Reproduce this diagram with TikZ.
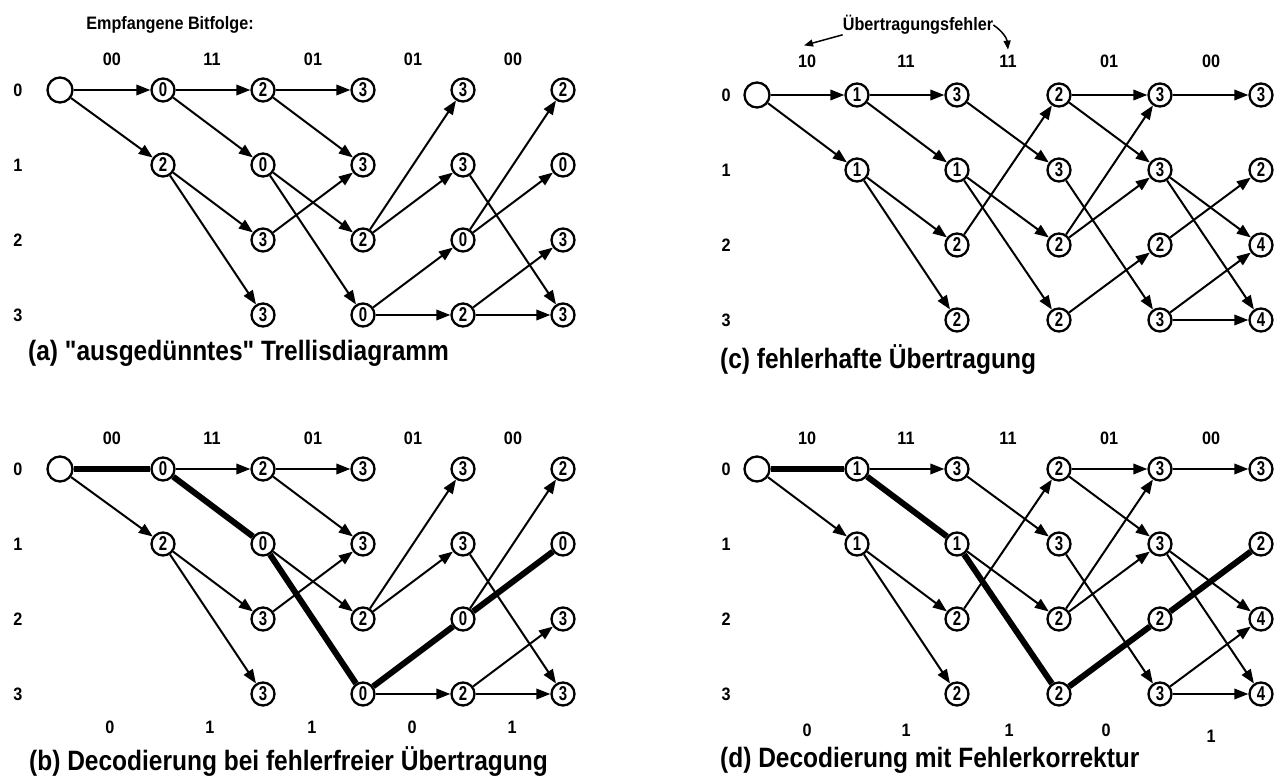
\documentclass[tikz,border=0pt]{standalone}
\usepackage{fontspec}
\setmainfont{Liberation Sans}[FakeStretch=0.9]
\newfontfamily\nfont{Liberation Sans}[FakeStretch=0.75]
\newfontfamily\capfont{Liberation Sans}[FakeStretch=0.875]
\usetikzlibrary{arrows.meta}
\tikzset{
 st/.style={circle,draw,line width=2.3pt,minimum size=23pt,inner sep=0pt,font=\nfont\bfseries\fontsize{20}{20}\selectfont},
 startnode/.style={circle,draw,line width=2.3pt,minimum size=25pt,inner sep=0pt},
 ed/.style={line width=2pt,-{Triangle[length=14pt,width=10.5pt]}},
 th/.style={line width=6pt},
 lab/.style={font=\bfseries\fontsize{18}{18}\selectfont,inner sep=0pt},
 captext/.style={font=\capfont\bfseries\fontsize{28}{28}\selectfont,inner sep=0pt,anchor=west},
 ann/.style={line width=1.5pt,-{Triangle[length=9pt,width=7pt]}},
}
\begin{document}
\begin{tikzpicture}[x=1pt,y=-1pt]
\useasboundingbox (0,0) rectangle (1287,781);
% ---------------- Panel (a) ----------------
\node[lab] (ahead) at (170,25) {Empfangene Bitfolge:};
\foreach \r/\y in {0/90,1/165,2/240,3/315} \node[lab] (ar\r) at (18,\y) {\r};
\foreach \i/\x/\t in {1/112/00,2/212/11,3/313/01,4/413/01,5/513/00} \node[lab] (ab\i) at (\x,59) {\t};
\node[startnode] (a00) at (60,90) {};
\node[st] (a10) at (163,90) {0};
\node[st] (a11) at (163,165) {2};
\node[st] (a20) at (263,90) {2};
\node[st] (a21) at (263,165) {0};
\node[st] (a22) at (263,240) {3};
\node[st] (a23) at (263,315) {3};
\node[st] (a30) at (363,90) {3};
\node[st] (a31) at (363,165) {3};
\node[st] (a32) at (363,240) {2};
\node[st] (a33) at (363,315) {0};
\node[st] (a40) at (463,90) {3};
\node[st] (a41) at (463,165) {3};
\node[st] (a42) at (463,240) {0};
\node[st] (a43) at (463,315) {2};
\node[st] (a50) at (563,90) {2};
\node[st] (a51) at (563,165) {0};
\node[st] (a52) at (563,240) {3};
\node[st] (a53) at (563,315) {3};
\foreach \s/\e in {a00/a10,a00/a11,a10/a20,a10/a21,a11/a22,a11/a23,a20/a30,a20/a31,a21/a32,a21/a33,a22/a31,a32/a40,a32/a41,a33/a42,a33/a43,a41/a53,a42/a50,a42/a51,a43/a52,a43/a53}
  \draw[ed] (\s) -- (\e);
\node[captext] (acap) at (28,353) {(a) "ausgedünntes" Trellisdiagramm};
% ---------------- Panel (b) ----------------
\foreach \r/\y in {0/469,1/544,2/619,3/694} \node[lab] (br\r) at (18,\y) {\r};
\foreach \i/\x/\t in {1/112/00,2/212/11,3/313/01,4/413/01,5/513/00} \node[lab] (bb\i) at (\x,438) {\t};
\foreach \i/\x/\t in {1/110/0,2/210/1,3/312/1,4/412/0,5/512/1} \node[lab] (bd\i) at (\x,727) {\t};
\node[startnode] (b00) at (60,469) {};
\node[st] (b10) at (163,469) {0};
\node[st] (b11) at (163,544) {2};
\node[st] (b20) at (263,469) {2};
\node[st] (b21) at (263,544) {0};
\node[st] (b22) at (263,619) {3};
\node[st] (b23) at (263,694) {3};
\node[st] (b30) at (363,469) {3};
\node[st] (b31) at (363,544) {3};
\node[st] (b32) at (363,619) {2};
\node[st] (b33) at (363,694) {0};
\node[st] (b40) at (463,469) {3};
\node[st] (b41) at (463,544) {3};
\node[st] (b42) at (463,619) {0};
\node[st] (b43) at (463,694) {2};
\node[st] (b50) at (563,469) {2};
\node[st] (b51) at (563,544) {0};
\node[st] (b52) at (563,619) {3};
\node[st] (b53) at (563,694) {3};
\foreach \s/\e in {b00/b11,b10/b20,b11/b22,b11/b23,b20/b30,b20/b31,b21/b32,b22/b31,b32/b40,b32/b41,b33/b43,b41/b53,b42/b50,b43/b52,b43/b53}
  \draw[ed] (\s) -- (\e);
\foreach \s/\e in {b00/b10,b10/b21,b21/b33,b33/b42,b42/b51}
  \draw[th] (\s) -- (\e);
\node[captext] (bcap) at (29,762) {(b) Decodierung bei fehlerfreier Übertragung};
% ---------------- Panel (c) ----------------
\foreach \r/\y in {0/95,1/170,2/245,3/320} \node[lab] (cr\r) at (726,\y) {\r};
\foreach \i/\x/\t in {1/807/10,2/906/11,3/1008/11,4/1109/01,5/1211/00} \node[lab] (cb\i) at (\x,61) {\t};
\node[lab] (err) at (918,25) {Übertragungsfehler};
\draw[ann] (err.south west) -- ([xshift=-3pt,yshift=9pt]cb1.north);
\draw[ann] (err.east) to[bend left=25] ([yshift=5pt]cb3.north);
\node[startnode] (c00) at (757,95) {};
\node[st] (c10) at (857,95) {1};
\node[st] (c11) at (857,170) {1};
\node[st] (c20) at (957,95) {3};
\node[st] (c21) at (957,170) {1};
\node[st] (c22) at (957,245) {2};
\node[st] (c23) at (957,320) {2};
\node[st] (c30) at (1059,95) {2};
\node[st] (c31) at (1059,170) {3};
\node[st] (c32) at (1059,245) {2};
\node[st] (c33) at (1059,320) {2};
\node[st] (c40) at (1160,95) {3};
\node[st] (c41) at (1160,170) {3};
\node[st] (c42) at (1160,245) {2};
\node[st] (c43) at (1160,320) {3};
\node[st] (c50) at (1261,95) {3};
\node[st] (c51) at (1261,170) {2};
\node[st] (c52) at (1261,245) {4};
\node[st] (c53) at (1261,320) {4};
\foreach \s/\e in {c00/c10,c00/c11,c10/c20,c10/c21,c11/c22,c11/c23,c20/c31,c21/c32,c21/c33,c22/c30,c30/c40,c30/c41,c31/c43,c32/c40,c32/c41,c33/c42,c40/c50,c41/c52,c41/c53,c42/c51,c43/c52,c43/c53}
  \draw[ed] (\s) -- (\e);
\node[captext] (ccap) at (720,360) {(c) fehlerhafte Übertragung};
% ---------------- Panel (d) ----------------
\foreach \r/\y in {0/469,1/544,2/619,3/694} \node[lab] (dr\r) at (726,\y) {\r};
\foreach \i/\x/\t in {1/807/10,2/906/11,3/1008/11,4/1109/01,5/1211/00} \node[lab] (db\i) at (\x,438) {\t};
\foreach \i/\x/\y/\t in {1/807/730/0,2/906/730/1,3/1009/730/1,4/1106/730/0,5/1211/736/1} \node[lab] (dd\i) at (\x,\y) {\t};
\node[startnode] (d00) at (757,469) {};
\node[st] (d10) at (857,469) {1};
\node[st] (d11) at (857,544) {1};
\node[st] (d20) at (957,469) {3};
\node[st] (d21) at (957,544) {1};
\node[st] (d22) at (957,619) {2};
\node[st] (d23) at (957,694) {2};
\node[st] (d30) at (1059,469) {2};
\node[st] (d31) at (1059,544) {3};
\node[st] (d32) at (1059,619) {2};
\node[st] (d33) at (1059,694) {2};
\node[st] (d40) at (1160,469) {3};
\node[st] (d41) at (1160,544) {3};
\node[st] (d42) at (1160,619) {2};
\node[st] (d43) at (1160,694) {3};
\node[st] (d50) at (1261,469) {3};
\node[st] (d51) at (1261,544) {2};
\node[st] (d52) at (1261,619) {4};
\node[st] (d53) at (1261,694) {4};
\foreach \s/\e in {d00/d11,d10/d20,d11/d22,d11/d23,d20/d31,d21/d32,d22/d30,d30/d40,d30/d41,d31/d43,d32/d40,d32/d41,d40/d50,d41/d52,d41/d53,d43/d52,d43/d53}
  \draw[ed] (\s) -- (\e);
\foreach \s/\e in {d00/d10,d10/d21,d21/d33,d33/d42,d42/d51}
  \draw[th] (\s) -- (\e);
\node[captext] (dcap) at (720,760) {(d) Decodierung mit Fehlerkorrektur};
\end{tikzpicture}
\end{document}
